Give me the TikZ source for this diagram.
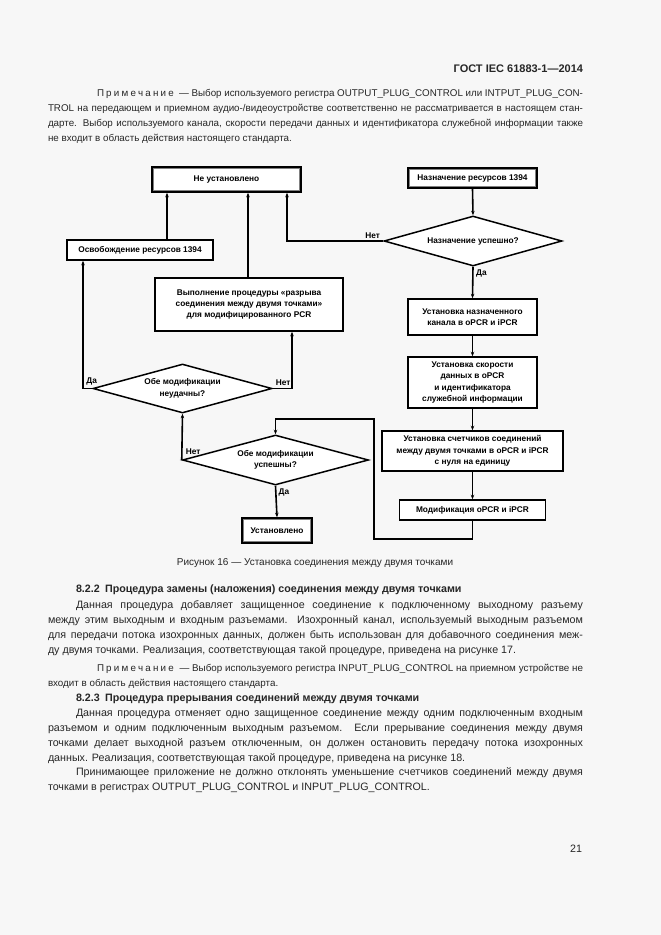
\documentclass[tikz,border=0pt]{standalone}
\usepackage{fontspec}
\setmainfont{Liberation Sans}
\usetikzlibrary{arrows.meta,shapes.geometric,calc}
\newcommand\prim{П\kern2.2pt р\kern2.2pt и\kern2.2pt м\kern2.2pt е\kern2.2pt ч\kern2.2pt а\kern2.2pt н\kern2.2pt и\kern2.2pt е}
\newcommand\figf{\fontsize{8.3}{11.5}\selectfont\bfseries}
\newcommand\bodyf{\fontsize{10.7}{13}\selectfont}
\newcommand\notef{\fontsize{9.8}{12}\selectfont}
\newcommand\jl[6]{\node[txt,anchor=west,font=#6] (#1) at (#2,#3) {\makebox[#4pt][s]{#5}};}
\newcommand\nl[5]{\node[txt,anchor=west,font=#5] (#1) at (#2,#3) {#4};}
\begin{document}
\begin{tikzpicture}[x=1pt,y=-1pt,
  txt/.style={inner sep=0pt,outer sep=0pt,text=black!85},
  box/.style={draw,line width=1.5pt,inner sep=1pt,align=center,font=\figf,fill=white},
  dia/.style={draw,diamond,line width=1.5pt,inner sep=0pt,align=center,font=\figf,fill=white},
  arr/.style={line width=1.6pt,-{Stealth[length=4.5pt,width=3.5pt]}},
  lbl/.style={font=\figf,inner sep=0pt}]
\fill[black!3] (0,0) rectangle (661,935);
\useasboundingbox (0,0) rectangle (661,935);

% header
\node[txt,anchor=east,font=\fontsize{11}{13}\selectfont\bfseries] (hdr) at (583,69) {ГОСТ IEC 61883-1—2014};

% top note
\jl{n1}{97}{94}{486}{\prim\ \ — Выбор используемого регистра OUTPUT\_PLUG\_CONTROL или INTPUT\_PLUG\_CON-}{\notef}
\jl{n2}{48}{109}{535}{TROL на передающем и приемном аудио-/видеоустройстве соответственно не рассматривается в настоящем стан-}{\notef}
\jl{n3}{48}{124}{535}{дарте. Выбор используемого канала, скорости передачи данных и идентификатора служебной информации также}{\notef}
\nl{n4}{48}{139}{не входит в область действия настоящего стандарта.}{\notef}

% ---- flowchart ----
\node[box,minimum width=149pt,minimum height=25pt] (nu) at (226.5,179.5) {Не установлено};
\node[box,minimum width=146pt,minimum height=20pt] (rel) at (140,250) {Освобождение ресурсов 1394};
\node[box,minimum width=188pt,minimum height=53pt] (exe) at (249,304.5) {Выполнение процедуры «разрыва\\соединения между двумя точками»\\для модифицированного PCR};
\node[box,minimum width=129pt,minimum height=20pt] (na) at (472.5,178) {Назначение ресурсов 1394};
\node[dia,minimum width=178pt,minimum height=50pt,aspect=3.5] (d1) at (473,241) {Назначение успешно?};
\node[box,minimum width=129pt,minimum height=36pt] (b1) at (472.5,317) {Установка назначенного\\канала в oPCR и iPCR};
\node[box,minimum width=129pt,minimum height=51pt] (b2) at (472.5,382.5) {Установка скорости\\данных в oPCR\\и идентификатора\\служебной информации};
\node[box,minimum width=181pt,minimum height=40pt] (b3) at (472.5,451) {Установка счетчиков соединений\\между двумя точками в oPCR и iPCR\\с нуля на единицу};
\node[box,minimum width=146pt,minimum height=20pt] (b4) at (472.5,510) {Модификация oPCR и iPCR};
\node[dia,minimum width=179pt,minimum height=49pt,aspect=3.6] (d2) at (182.5,388.5) {Обе модификации\\неудачны?};
\node[dia,minimum width=186pt,minimum height=50pt,aspect=3.7] (d3) at (275.5,460) {Обе модификации\\успешны?};
\node[box,minimum width=70pt,minimum height=25pt] (ok) at (277,530.5) {Установлено};

% inner grey frames of the terminal boxes
\foreach \n in {nu,na,ok}{
  \draw[gray,line width=0.6pt] ([shift={(2.2,2.2)}]\n.north west) rectangle ([shift={(-2.2,-2.2)}]\n.south east);
}

% connectors
\draw[arr] (na.south) -- (d1.north);
\draw[arr] (d1.west) -| ([xshift=60.5pt]nu.south);
\node[lbl,anchor=south east] (l1) at ([shift={(-3,-2)}]d1.west) {Нет};
\draw[arr] (d1.south) -- (b1.north);
\node[lbl,anchor=north west] (l2) at ([shift={(3,3)}]d1.south) {Да};
\draw[arr] (b1.south) -- (b2.north);
\draw[arr] (b2.south) -- (b3.north);
\draw[arr] (b3.south) -- (b4.north);
\draw[arr] (b4.south) -- ++(0,18) -| (374,419) -| (d3.north);
\draw[arr] (d3.south) -- (ok.north);
\node[lbl,anchor=north west] (l3) at ([shift={(3,3)}]d3.south) {Да};
\draw[arr] (d3.west) -- (d2.south);
\node[lbl,anchor=south west] (l4) at ([shift={(4,-5)}]d3.west) {Нет};
\draw[arr] (d2.west) -| ([xshift=-57pt]rel.south);
\node[lbl,anchor=south west] (l5) at ([shift={(-6,-3)}]d2.west) {Да};
\draw[arr] (d2.east) -| ([xshift=43pt]exe.south);
\node[lbl,anchor=south east] (l6) at ([shift={(18,-3)}]d2.east) {Нет};
\draw[arr] ([xshift=27pt]rel.north) -- ([xshift=27pt]rel.north |- nu.south);
\draw[arr] ([xshift=-1pt]exe.north) -- ([xshift=-1pt]exe.north |- nu.south);

% caption
\node[txt,font=\fontsize{10}{12}\selectfont] (cap) at (315,563) {Рисунок 16 — Установка соединения между двумя точками};

% 8.2.2
\nl{h1}{76}{590}{8.2.2\enspace Процедура замены (наложения) соединения между двумя точками}{\bodyf\bfseries}
\jl{p1}{76}{606}{507}{Данная процедура добавляет защищенное соединение к подключенному выходному разъему}{\bodyf}
\jl{p2}{48}{621}{535}{между этим выходным и входным разъемами. Изохронный канал, используемый выходным разъемом}{\bodyf}
\jl{p3}{48}{636}{535}{для передачи потока изохронных данных, должен быть использован для добавочного соединения меж-}{\bodyf}
\nl{p4}{48}{651}{ду двумя точками. Реализация, соответствующая такой процедуре, приведена на рисунке 17.}{\bodyf}
\jl{n5}{97}{669}{486}{\prim\ \ — Выбор используемого регистра INPUT\_PLUG\_CONTROL на приемном устройстве не}{\notef}
\nl{n6}{48}{684}{входит в область действия настоящего стандарта.}{\notef}

% 8.2.3
\nl{h2}{76}{699}{8.2.3\enspace Процедура прерывания соединений между двумя точками}{\bodyf\bfseries}
\jl{q1}{76}{714}{507}{Данная процедура отменяет одно защищенное соединение между одним подключенным входным}{\bodyf}
\jl{q2}{48}{729}{535}{разъемом и одним подключенным выходным разъемом. Если прерывание соединения между двумя}{\bodyf}
\jl{q3}{48}{744}{535}{точками делает выходной разъем отключенным, он должен остановить передачу потока изохронных}{\bodyf}
\nl{q4}{48}{759}{данных. Реализация, соответствующая такой процедуре, приведена на рисунке 18.}{\bodyf}
\jl{q5}{76}{773}{507}{Принимающее приложение не должно отклонять уменьшение счетчиков соединений между двумя}{\bodyf}
\nl{q6}{48}{788}{точками в регистрах OUTPUT\_PLUG\_CONTROL и INPUT\_PLUG\_CONTROL.}{\bodyf}

% page number
\node[txt,anchor=east,font=\bodyf] (pg) at (582,849) {21};
\end{tikzpicture}
\end{document}
